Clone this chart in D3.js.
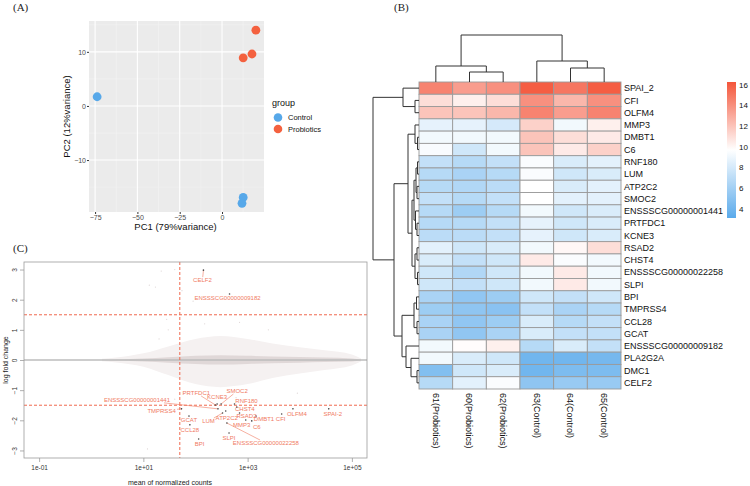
<!DOCTYPE html>
<html>
<head>
<meta charset="utf-8">
<script src="https://cdn.jsdelivr.net/npm/d3@7"></script>
<style>
body { margin: 0; background: #fff; }
svg { display: block; }
text { font-family: "Liberation Sans", Arial, sans-serif; }
</style>
</head>
<body>
<svg width="750" height="486"></svg>
<script>
// ---------- data ----------
// (A) PCA
var pcaGroup = ["Control", "Control", "Control", "Probiotics", "Probiotics", "Probiotics"];
var pc1 = [-73.8, 12.5, 11.8, 20, 12.5, 17.7];
var pc2 = [1.7, -16.9, -18, 14, 8.9, 9.6];
var groups = ["Control", "Probiotics"];
var groupColors = ["#57A8E9", "#F4613F"];

// (B) heatmap
var samples = ["61(Probiotics)", "60(Probiotics)", "62(Probiotics)", "63(Control)", "64(Control)", "65(Control)"];
var genes = ["SPAI_2", "CFI", "OLFM4", "MMP3", "DMBT1", "C6", "RNF180", "LUM", "ATP2C2", "SMOC2",
  "ENSSSCG00000001441", "PRTFDC1", "KCNE3", "RSAD2", "CHST4", "ENSSSCG00000022258", "SLPI",
  "BPI", "TMPRSS4", "CCL28", "GCAT", "ENSSSCG00000009182", "PLA2G2A", "DMC1", "CELF2"];
var expr = [
  [14.5, 13.5, 14.0, 16.0, 15.0, 16.0],
  [11.0, 10.3, 11.0, 14.0, 12.5, 14.0],
  [12.0, 12.0, 12.5, 14.5, 13.5, 14.5],
  [8.7, 8.7, 8.0, 11.5, 9.2, 10.3],
  [9.2, 9.2, 9.2, 12.0, 11.0, 10.5],
  [9.4, 7.8, 9.2, 12.0, 10.5, 11.5],
  [7.3, 6.8, 7.3, 9.5, 8.2, 8.6],
  [6.8, 6.3, 6.8, 9.5, 7.8, 8.2],
  [6.8, 6.6, 7.0, 9.7, 8.2, 8.6],
  [7.3, 6.8, 7.3, 9.7, 8.6, 8.6],
  [6.8, 5.8, 6.8, 9.2, 7.8, 8.2],
  [6.8, 6.8, 7.3, 8.7, 7.8, 8.2],
  [7.0, 7.0, 7.3, 8.7, 7.8, 8.2],
  [8.6, 7.8, 8.2, 9.2, 10.0, 11.0],
  [8.2, 7.3, 7.8, 10.5, 9.5, 9.2],
  [7.8, 6.6, 7.8, 9.2, 10.5, 9.2],
  [7.8, 7.3, 7.8, 9.2, 10.5, 9.2],
  [6.3, 5.3, 5.8, 7.8, 7.3, 7.8],
  [5.8, 5.2, 5.0, 7.3, 6.3, 6.8],
  [6.3, 5.3, 5.8, 8.2, 6.8, 7.3],
  [6.3, 5.3, 6.3, 8.2, 7.3, 7.3],
  [9.2, 9.8, 10.3, 6.8, 8.2, 7.3],
  [9.2, 8.2, 7.8, 4.0, 4.0, 4.2],
  [4.7, 7.8, 8.2, 4.0, 4.5, 4.5],
  [6.8, 8.6, 9.5, 5.2, 5.6, 5.6]
];
var legendTicks = [4, 6, 8, 10, 12, 14, 16];
var exprRange = [3.1, 16.3];

// clustering trees (h = merge height)
var rowTree = {h: 46, c: [
  {h: 16, c: ["SPAI_2", {h: 4, c: ["CFI", "OLFM4"]}]},
  {h: 25, c: [
    {h: 11, c: [
      {h: 4, c: ["MMP3", {h: 1.5, c: ["DMBT1", "C6"]}]},
      {h: 7, c: [
        {h: 5, c: [
          {h: 3, c: [{h: 1.5, c: ["RNF180", "LUM"]}, {h: 2, c: ["ATP2C2", "SMOC2"]}]},
          {h: 3.5, c: ["ENSSSCG00000001441", {h: 2, c: ["PRTFDC1", "KCNE3"]}]}
        ]},
        {h: 4, c: [{h: 2, c: ["RSAD2", "CHST4"]}, {h: 1.5, c: ["ENSSSCG00000022258", "SLPI"]}]}
      ]}
    ]},
    {h: 17, c: [
      {h: 5, c: [{h: 2.5, c: ["BPI", "TMPRSS4"]}, {h: 2, c: ["CCL28", "GCAT"]}]},
      {h: 13, c: ["ENSSSCG00000009182", {h: 8, c: ["PLA2G2A", {h: 2, c: ["DMC1", "CELF2"]}]}]}
    ]}
  ]}
]};
var colTree = {h: 47, c: [
  {h: 16, c: ["61(Probiotics)", {h: 10, c: ["60(Probiotics)", "62(Probiotics)"]}]},
  {h: 21, c: ["63(Control)", {h: 14, c: ["64(Control)", "65(Control)"]}]}
]};

// (C) MA plot
var maGenes = ["CELF2", "ENSSSCG00000009182", "SPAI-2", "OLFM4", "CFI", "DMBT1", "C6", "MMP3", "RSAD2",
  "CHST4", "RNF180", "SMOC2", "KCNE3", "PRTFDC1", "ENSSSCG00000001441", "ATP2C2", "LUM",
  "ENSSSCG00000022258", "SLPI", "TMPRSS4", "GCAT", "CCL28", "BPI"];
var maMean = [142, 450, 36000, 7400, 4500, 1450, 1200, 920, 700, 620, 560, 310, 260, 240, 270, 380, 330, 400, 440, 54, 75, 78, 115];
var maLfc = [2.98, 2.19, -1.62, -1.62, -1.79, -1.86, -2.02, -1.99, -1.76, -1.56, -1.46, -1.46, -1.46, -1.49, -1.62, -1.69, -1.76, -2.09, -2.42, -1.62, -1.86, -2.15, -2.62];
var maLabelShift = [[-1, 10], [-2, 4], [4, 5], [4, 5], [-1, 5], [8, 3], [5, 6], [-4, 5], [7, 3], [8, 2], [12, -3], [16, -13], [0, -7], [-19, -12], [-81, -9], [1, 7], [-14, 8], [39, 20], [0, 5], [-20, 2], [0, 4], [0, 5], [1, 5]];
// envelope of the grey cloud of all genes
var cloudMean = [1.6, 3, 10, 30, 100, 300, 1000, 3000, 10000, 30000, 100000, 150000];
var coreHi = [0.01, 0.02, 0.05, 0.09, 0.14, 0.16, 0.14, 0.12, 0.1, 0.08, 0.05, 0.02];
var coreLo = [-0.01, -0.02, -0.05, -0.09, -0.13, -0.15, -0.13, -0.11, -0.09, -0.07, -0.05, -0.02];
var outerHi = [0.04, 0.08, 0.22, 0.45, 0.7, 0.8, 0.7, 0.55, 0.42, 0.32, 0.18, 0.05];
var outerLo = [-0.04, -0.08, -0.22, -0.5, -0.8, -0.9, -0.8, -0.6, -0.45, -0.33, -0.18, -0.05];
var strayMean = [13, 17, 22, 40, 55, 90, 28, 20, 12, 60, 150, 700, 2500, 9000, 40, 30, 600];
var strayLfc = [2.48, 2.42, 2.95, 3.0, 2.3, 1.95, 1.35, 0.7, -2.95, -1.1, 1.2, 1.25, 1.0, -1.1, -1.3, 1.0, -1.25];
var maXTicks = [0.1, 10, 1000, 100000];
var maYTicks = [-3, -2, -1, 0, 1, 2, 3];

// ---------- drawing ----------
var svg = d3.select("svg");
svg.append("rect").attr("width", 750).attr("height", 486).attr("fill", "#fff");

var panelLabel = function (txt, x, y) {
  svg.append("text").attr("x", x).attr("y", y).text(txt)
    .style("font-family", "'Liberation Serif', 'DejaVu Serif', serif")
    .style("font-size", "11px").attr("fill", "#222");
};
panelLabel("(A)", 13, 11);
panelLabel("(B)", 394, 11);
panelLabel("(C)", 13, 252);

// ===== (A) PCA =====
var pa = {left: 89, right: 264, top: 21, bottom: 212};
var xA = d3.scaleLinear().domain([-78.6, 24.8]).range([pa.left, pa.right]);
var yA = d3.scaleLinear().domain([-19.6, 15.7]).range([pa.bottom, pa.top]);
var gA = svg.append("g");
gA.append("rect").attr("x", pa.left).attr("y", pa.top)
  .attr("width", pa.right - pa.left).attr("height", pa.bottom - pa.top).attr("fill", "#EBEBEB");

[-62.5, -37.5, -12.5, 12.5].forEach(function (v) {
  gA.append("line").attr("x1", xA(v)).attr("x2", xA(v)).attr("y1", pa.top).attr("y2", pa.bottom)
    .attr("stroke", "#F4F4F4").attr("stroke-width", 0.6);
});
[-15, -5, 5, 15].forEach(function (v) {
  gA.append("line").attr("y1", yA(v)).attr("y2", yA(v)).attr("x1", pa.left).attr("x2", pa.right)
    .attr("stroke", "#F4F4F4").attr("stroke-width", 0.6);
});
[-75, -50, -25, 0].forEach(function (v) {
  gA.append("line").attr("x1", xA(v)).attr("x2", xA(v)).attr("y1", pa.top).attr("y2", pa.bottom)
    .attr("stroke", "#fff").attr("stroke-width", 1.1);
});
[-10, 0, 10].forEach(function (v) {
  gA.append("line").attr("y1", yA(v)).attr("y2", yA(v)).attr("x1", pa.left).attr("x2", pa.right)
    .attr("stroke", "#fff").attr("stroke-width", 1.1);
});

var axA_x = gA.append("g").attr("transform", "translate(0," + pa.bottom + ")")
  .call(d3.axisBottom(xA).tickValues([-75, -50, -25, 0]).tickSize(2).tickPadding(1).tickFormat(d3.format("d")));
var axA_y = gA.append("g").attr("transform", "translate(" + pa.left + ",0)")
  .call(d3.axisLeft(yA).tickValues([-10, 0, 10]).tickSize(2).tickPadding(1).tickFormat(d3.format("d")));
[axA_x, axA_y].forEach(function (ax) {
  ax.select(".domain").remove();
  ax.selectAll(".tick line").attr("stroke", "#333");
  ax.selectAll(".tick text").attr("fill", "#4D4D4D").style("font-size", "7px")
    .style("font-family", "'Liberation Sans', Arial, sans-serif");
});

gA.selectAll("circle.pt").data(pc1).enter().append("circle").attr("class", "pt")
  .attr("cx", function (d) { return xA(d); })
  .attr("cy", function (d, i) { return yA(pc2[i]); })
  .attr("r", 4.4)
  .attr("fill", function (d, i) { return groupColors[groups.indexOf(pcaGroup[i])]; });

gA.append("text").attr("x", (pa.left + pa.right) / 2 - 1).attr("y", 230).attr("text-anchor", "middle")
  .style("font-size", "9.5px").attr("fill", "#111").text("PC1 (79%variance)");
gA.append("text").attr("transform", "translate(70," + ((pa.top + pa.bottom) / 2) + ") rotate(-90)")
  .attr("text-anchor", "middle").style("font-size", "9.5px").attr("fill", "#111").text("PC2 (12%variance)");

var legA = gA.append("g").attr("transform", "translate(272,0)");
legA.append("text").attr("x", 0).attr("y", 106).style("font-size", "9px").attr("fill", "#111").text("group");
groups.forEach(function (gname, i) {
  legA.append("circle").attr("cx", 6).attr("cy", 117.5 + i * 11.5).attr("r", 4.3).attr("fill", groupColors[i]);
  legA.append("text").attr("x", 16).attr("y", 117.5 + i * 11.5).attr("dy", "0.35em")
    .style("font-size", "7.5px").attr("fill", "#111").text(gname);
});

// ===== (B) heatmap =====
var hb = {left: 419, right: 621, top: 82, bottom: 389};
var xH = d3.scaleBand().domain(samples).range([hb.left, hb.right]);
var yH = d3.scaleBand().domain(genes).range([hb.top, hb.bottom]);
var mid = (exprRange[0] + exprRange[1]) / 2;
var colorH = d3.scaleLinear().domain([exprRange[0], mid, exprRange[1]])
  .range(["#5AAAEB", "#FFFFFF", "#F4553A"]);

var gB = svg.append("g");
genes.forEach(function (g, r) {
  samples.forEach(function (s, c) {
    gB.append("rect").attr("x", xH(s)).attr("y", yH(g))
      .attr("width", xH.bandwidth()).attr("height", yH.bandwidth())
      .attr("fill", colorH(expr[r][c])).attr("stroke", "#9A9A9A").attr("stroke-width", 0.9);
  });
  gB.append("text").attr("x", hb.right + 3).attr("y", yH(g) + yH.bandwidth() / 2).attr("dy", "0.35em")
    .style("font-size", "9px").attr("fill", "#111").text(g);
});
samples.forEach(function (s) {
  gB.append("text")
    .attr("transform", "translate(" + (xH(s) + xH.bandwidth() / 2) + "," + (hb.bottom + 4) + ") rotate(90)")
    .attr("dy", "0.35em").style("font-size", "9px").attr("fill", "#111").text(s);
});

// dendrograms
var drawDendro = function (tree, leafPos, hScale, vertical) {
  var root = d3.hierarchy(tree, function (d) { return typeof d === "string" ? null : d.c; });
  root.eachAfter(function (n) {
    if (!n.children) { n.pos = leafPos(n.data); n.ht = 0; }
    else { n.pos = d3.mean(n.children, function (k) { return k.pos; }); n.ht = n.data.h; }
  });
  root.each(function (n) {
    if (!n.children) return;
    var a = n.children[0], b = n.children[1];
    var p = d3.path();
    if (vertical) {
      p.moveTo(a.pos, hScale(a.ht)); p.lineTo(a.pos, hScale(n.ht));
      p.lineTo(b.pos, hScale(n.ht)); p.lineTo(b.pos, hScale(b.ht));
    } else {
      p.moveTo(hScale(a.ht), a.pos); p.lineTo(hScale(n.ht), a.pos);
      p.lineTo(hScale(n.ht), b.pos); p.lineTo(hScale(b.ht), b.pos);
    }
    gB.append("path").attr("d", p.toString()).attr("fill", "none")
      .attr("stroke", "#333").attr("stroke-width", 1);
  });
};
var rowH = d3.scaleLinear().domain([0, 46]).range([hb.left, 373]);
drawDendro(rowTree, function (g) { return yH(g) + yH.bandwidth() / 2; }, rowH, false);
var colH = d3.scaleLinear().domain([0, 47]).range([hb.top, 35]);
drawDendro(colTree, function (s) { return xH(s) + xH.bandwidth() / 2; }, colH, true);

// colour legend
var lg = {x: 727, w: 9, top: 82, bottom: 218};
var yL = d3.scaleLinear().domain(exprRange).range([lg.bottom, lg.top]);
var grad = svg.append("defs").append("linearGradient").attr("id", "hmgrad")
  .attr("x1", 0).attr("y1", 1).attr("x2", 0).attr("y2", 0);
d3.range(0, 1.0001, 0.05).forEach(function (t) {
  var v = exprRange[0] + t * (exprRange[1] - exprRange[0]);
  grad.append("stop").attr("offset", t).attr("stop-color", colorH(v));
});
gB.append("rect").attr("x", lg.x).attr("y", lg.top).attr("width", lg.w).attr("height", lg.bottom - lg.top)
  .attr("fill", "url(#hmgrad)");
legendTicks.forEach(function (v) {
  gB.append("text").attr("x", lg.x + lg.w + 3).attr("y", yL(v)).attr("dy", "0.35em")
    .style("font-size", "8px").attr("fill", "#111").text(v);
});

// ===== (C) MA plot =====
var pc = {left: 24, right: 367, top: 262, bottom: 458};
var xM = d3.scaleLog().domain([Math.pow(10, -1.29), Math.pow(10, 5.29)]).range([pc.left, pc.right]);
var yM = d3.scaleLinear().domain([-3.25, 3.25]).range([pc.bottom, pc.top]);
var gC = svg.append("g");
gC.append("defs").append("clipPath").attr("id", "maclip").append("rect")
  .attr("x", pc.left).attr("y", pc.top).attr("width", pc.right - pc.left).attr("height", pc.bottom - pc.top);
var plotC = gC.append("g").attr("clip-path", "url(#maclip)");

var area = function (hi, lo) {
  return d3.area().curve(d3.curveMonotoneX)
    .x(function (d, i) { return xM(cloudMean[i]); })
    .y0(function (d, i) { return yM(lo[i]); })
    .y1(function (d, i) { return yM(hi[i]); })(cloudMean);
};
plotC.append("path").attr("d", area(outerHi, outerLo)).attr("fill", "#F5F1F1");
plotC.append("path").attr("d", area(coreHi, coreLo)).attr("fill", "#E0D8D8");
plotC.selectAll("circle.stray").data(strayMean).enter().append("circle").attr("class", "stray")
  .attr("cx", function (d) { return xM(d); })
  .attr("cy", function (d, i) { return yM(strayLfc[i]); })
  .attr("r", 0.6).attr("fill", "#DDD5D5");

plotC.append("line").attr("x1", pc.left).attr("x2", pc.right).attr("y1", yM(0)).attr("y2", yM(0))
  .attr("stroke", "#BDBDBD").attr("stroke-width", 1.6);
[1.5, -1.5].forEach(function (v) {
  plotC.append("line").attr("x1", pc.left).attr("x2", pc.right).attr("y1", yM(v)).attr("y2", yM(v))
    .attr("stroke", "#F0684E").attr("stroke-width", 1).attr("stroke-dasharray", "3,2");
});
plotC.append("line").attr("x1", xM(50)).attr("x2", xM(50)).attr("y1", pc.top).attr("y2", pc.bottom)
  .attr("stroke", "#F0684E").attr("stroke-width", 1).attr("stroke-dasharray", "3,2");

// labelled genes
var gLab = plotC.append("g");
maGenes.forEach(function (name, i) {
  var px = xM(maMean[i]), py = yM(maLfc[i]);
  var lx = px + maLabelShift[i][0], ly = py + maLabelShift[i][1];
  var t = gLab.append("text").attr("x", lx).attr("y", ly).attr("dy", "0.35em").attr("text-anchor", "middle")
    .style("font-size", "6px").attr("fill", "#F07A62").text(name);
  var bb = t.node().getBBox();
  var dx = px - lx, dy = py - ly;
  if (Math.sqrt(dx * dx + dy * dy) > 9) {
    var k = Math.min(Math.abs(dx) > 0 ? (bb.width / 2 + 1) / Math.abs(dx) : 99,
                     Math.abs(dy) > 0 ? (bb.height / 2) / Math.abs(dy) : 99);
    gLab.append("line").attr("x1", lx + dx * k).attr("y1", ly + dy * k).attr("x2", px).attr("y2", py)
      .attr("stroke", "#F07A62").attr("stroke-width", 0.6);
  }
  gLab.append("circle").attr("cx", px).attr("cy", py).attr("r", 0.8).attr("fill", "#444");
});

gC.append("rect").attr("x", pc.left).attr("y", pc.top).attr("width", pc.right - pc.left)
  .attr("height", pc.bottom - pc.top).attr("fill", "none").attr("stroke", "#9C9C9C").attr("stroke-width", 0.8);

var fmtSci = function (d) {
  var e = Math.round(Math.log10(d));
  return "1e" + (e < 0 ? "-" : "+") + (Math.abs(e) < 10 ? "0" : "") + Math.abs(e);
};
var axC_x = gC.append("g").attr("transform", "translate(0," + pc.bottom + ")")
  .call(d3.axisBottom(xM).tickValues(maXTicks).tickFormat(fmtSci).tickSize(4).tickPadding(3));
var axC_y = gC.append("g").attr("transform", "translate(" + pc.left + ",0)")
  .call(d3.axisLeft(yM).tickValues(maYTicks).tickFormat(d3.format("d")).tickSize(4).tickPadding(3));
[axC_x, axC_y].forEach(function (ax) {
  ax.select(".domain").remove();
  ax.selectAll(".tick line").attr("stroke", "#9C9C9C").attr("stroke-width", 0.8);
  ax.selectAll(".tick text").attr("fill", "#333").style("font-size", "6.5px")
    .style("font-family", "'Liberation Sans', Arial, sans-serif");
});
axC_y.selectAll(".tick text").attr("text-anchor", "middle").attr("dy", 0)
  .attr("transform", "translate(-9,0) rotate(-90)").attr("x", 0).attr("y", 2);

gC.append("text").attr("x", 170).attr("y", 485).attr("text-anchor", "middle")
  .style("font-size", "7px").attr("fill", "#222").text("mean of normalized counts");
gC.append("text").attr("transform", "translate(8," + yM(0) + ") rotate(-90)").attr("text-anchor", "middle")
  .style("font-size", "7px").attr("fill", "#222").text("log fold change");
</script>
</body>
</html>
